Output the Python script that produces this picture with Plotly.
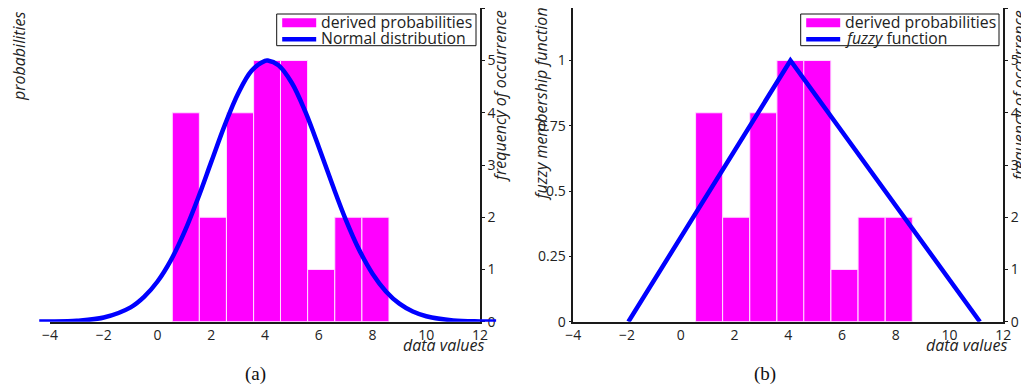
import plotly.graph_objects as go

# ---------------- data ----------------
bin_centers = [1.054, 2.06, 3.07, 4.08, 5.08, 6.09, 7.10, 8.11]
bin_width = 1.0075
frequencies = [4, 2, 4, 5, 5, 1, 2, 2]

normal_x = [-4.4, -4, -3, -2, -1, -0.5, 0, 0.5, 1, 1.5, 2, 2.5, 3, 3.5, 4, 4.1,
            4.5, 5, 5.5, 6, 6.5, 7, 7.5, 8, 8.5, 9, 9.5, 10, 11, 12, 12.6]
normal_y = [0.0003, 0.0007, 0.0037, 0.016, 0.055, 0.095, 0.154, 0.236, 0.343, 0.471,
            0.612, 0.752, 0.874, 0.961, 0.999, 1.0, 0.982, 0.914, 0.804, 0.669,
            0.527, 0.392, 0.276, 0.184, 0.116, 0.069, 0.039, 0.021, 0.005, 0.001, 0.0003]

fuzzy_x = [-1.95, 4.08, 11.13]
fuzzy_y = [0, 1, 0]

x_ticks = [-4, -2, 0, 2, 4, 6, 8, 10, 12]
prob_ticks = [0, 0.25, 0.5, 0.75, 1]
prob_ticktext = ["0", "0.25", "0.5", "0.75", "1"]
freq_ticks = [0, 1, 2, 3, 4, 5, 6]

legend_a = ["derived probabilities", "Normal distribution"]
legend_b = ["derived probabilities", "<i>fuzzy</i> function"]

# ---------------- layout geometry ----------------
# the page body has an 8px margin, so the figure starts at (8, 8) in the window
OFF = 8
W, H = 1029 - OFF, 389 - OFF
def px(x):
    return (x - OFF) / W
def py(y):
    return 1 - (y - OFF) / H

left_dom = [px(50), px(480)]
right_dom = [px(573.3), px(1003.3)]
y_dom = [py(321.7), py(8.3)]
ppu = 430 / 16.0
ext_range = [-4.6, 12.7]
ext_dom = [px(50 + (ext_range[0] + 4) * ppu), px(480 + (ext_range[1] - 12) * ppu)]

MAG = "#FF00FF"
BLUE = "#0000FF"
FONT = "Open Sans"
TXT = "#222222"

fig = go.Figure()

fig.add_trace(go.Bar(x=bin_centers, y=frequencies, width=bin_width,
                     marker=dict(color=MAG, line=dict(color="#FFE0FF", width=1)),
                     name=legend_a[0], xaxis="x", yaxis="y"))
fig.add_trace(go.Scatter(x=normal_x, y=normal_y, mode="lines",
                         line=dict(color=BLUE, width=4.5, shape="spline"),
                         name=legend_a[1], xaxis="x3", yaxis="y3"))

fig.add_trace(go.Bar(x=bin_centers, y=frequencies, width=bin_width,
                     marker=dict(color=MAG, line=dict(color="#FFE0FF", width=1)),
                     name=legend_b[0], xaxis="x2", yaxis="y4"))
fig.add_trace(go.Scatter(x=fuzzy_x, y=fuzzy_y, mode="lines",
                         line=dict(color=BLUE, width=4.5),
                         name=legend_b[1], xaxis="x2", yaxis="y5"))

tickfont = dict(family=FONT, size=14, color=TXT)
axline = dict(showline=True, linecolor="#1a1a1a", linewidth=1.5, showgrid=False,
              zeroline=False, tickfont=tickfont, automargin=False)

xcommon = dict(range=[-4, 12], tickvals=x_ticks, ticks="", mirror=True, **axline)
fig.update_layout(
    xaxis=dict(domain=left_dom, anchor="y", **xcommon),
    xaxis2=dict(domain=right_dom, anchor="y4", **xcommon),
    xaxis3=dict(domain=ext_dom, range=ext_range, anchor="y3", visible=False),
    yaxis=dict(domain=y_dom, range=[0, 6], side="right", anchor="x",
               tickvals=freq_ticks, ticks="outside", ticklen=3, tickcolor="#1a1a1a", **axline),
    yaxis2=dict(range=[0, 1.2], overlaying="y", side="left", anchor="x",
                tickvals=prob_ticks, ticktext=prob_ticktext, ticks="outside", ticklen=3,
                tickcolor="#1a1a1a", **axline),
    yaxis3=dict(domain=y_dom, range=[0, 1.2], anchor="x3", visible=False),
    yaxis4=dict(domain=y_dom, range=[0, 6], side="right", anchor="x2",
                tickvals=freq_ticks, ticks="outside", ticklen=3, tickcolor="#1a1a1a", **axline),
    yaxis5=dict(range=[0, 1.2], overlaying="y4", side="left", anchor="x2",
                tickvals=prob_ticks, ticktext=prob_ticktext, ticks="outside", ticklen=3,
                tickcolor="#1a1a1a", **axline),
)

# ---------------- legends (drawn as boxed keys) ----------------
leg_font = dict(family=FONT, size=15.8, color=TXT)
for (x0, x1, labels) in [(276.7, 476, legend_a), (800.7, 999, legend_b)]:
    fig.add_shape(type="rect", xref="paper", yref="paper",
                  x0=px(x0), x1=px(x1), y0=py(45.7), y1=py(14),
                  line=dict(color="#111111", width=1), fillcolor="white", layer="above")
    kx0, kx1 = x0 + 5.5, x0 + 39.5
    fig.add_shape(type="rect", xref="paper", yref="paper",
                  x0=px(kx0), x1=px(kx1), y0=py(27.3), y1=py(18.3),
                  line=dict(width=0), fillcolor=MAG, layer="above")
    fig.add_shape(type="line", xref="paper", yref="paper",
                  x0=px(kx0), x1=px(kx1), y0=py(39.3), y1=py(39.3),
                  line=dict(color=BLUE, width=4.5), layer="above")
    for lab_text, yc in zip(labels, [22, 37.5]):
        fig.add_annotation(text=lab_text, xref="paper", yref="paper",
                           x=px(kx1 + 4), y=py(yc), xanchor="left", yanchor="middle",
                           showarrow=False, font=leg_font, borderpad=0)

lab = dict(family=FONT, size=16, color=TXT)
annots = [
    dict(text="<i>probabilities</i>", x=px(19), y=py(56), textangle=-90),
    dict(text="<i>frequency of occurrence</i>", x=px(500), y=py(96), textangle=-90),
    dict(text="<i>data values</i>", x=px(443), y=py(345), textangle=0),
    dict(text="<i>fuzzy membership function</i>", x=px(540.5), y=py(104), textangle=-90),
    dict(text="<i>frequency of occurrence</i>", x=px(1019), y=py(96), textangle=-90),
    dict(text="<i>data values</i>", x=px(966), y=py(345), textangle=0),
]
for a in annots:
    fig.add_annotation(xref="paper", yref="paper", showarrow=False, font=lab,
                       xanchor="center", yanchor="middle", borderpad=0, **a)
for t, xc in [("(a)", 255), ("(b)", 765)]:
    fig.add_annotation(text=t, xref="paper", yref="paper", x=px(xc), y=py(374),
                       showarrow=False, xanchor="center", yanchor="middle",
                       font=dict(family="Liberation Serif", size=19, color="#111111"))

fig.update_layout(width=W, height=H, margin=dict(l=0, r=0, t=0, b=0),
                  paper_bgcolor="white", plot_bgcolor="rgba(0,0,0,0)",
                  barmode="overlay", showlegend=False)

fig.write_html("out.html")
